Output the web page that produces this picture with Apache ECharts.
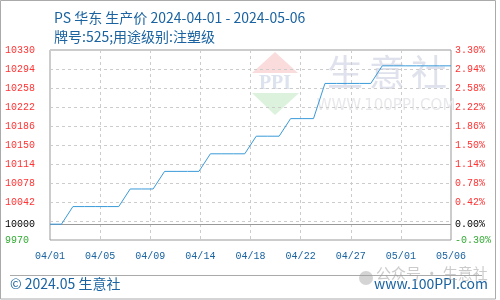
<!DOCTYPE html>
<html>
<head>
<meta charset="utf-8">
<script src="https://cdn.jsdelivr.net/npm/echarts@6/dist/echarts.min.js"></script>
<style>html,body{margin:0;padding:0;background:#fff}#c{width:500px;height:300px}</style>
</head>
<body>
<div id="c"></div>
<script>
// ---- data ----
var dates = ['2024-04-01','2024-04-02','2024-04-03','2024-04-04','2024-04-05','2024-04-06','2024-04-07','2024-04-08','2024-04-09','2024-04-10',
  '2024-04-11','2024-04-12','2024-04-13','2024-04-14','2024-04-15','2024-04-16','2024-04-17','2024-04-18','2024-04-19','2024-04-20',
  '2024-04-21','2024-04-22','2024-04-23','2024-04-24','2024-04-25','2024-04-26','2024-04-27','2024-04-28','2024-04-29','2024-04-30',
  '2024-05-01','2024-05-02','2024-05-03','2024-05-04','2024-05-05','2024-05-06'];
var prices = [10000,10000,10033.33,10033.33,10033.33,10033.33,10033.33,10066.67,10066.67,10066.67,
  10100,10100,10100,10100,10133.33,10133.33,10133.33,10133.33,10166.67,10166.67,
  10166.67,10200,10200,10200,10266.67,10266.67,10266.67,10266.67,10266.67,10300,
  10300,10300,10300,10300,10300,10300];
var xTickLabels = ['04/01','04/05','04/09','04/14','04/18','04/22','04/27','05/01','05/06'];
var yLabelValues = [10330,10294,10258,10222,10186,10150,10114,10078,10042,10000,9970];
var yGridValues = [10294,10258,10222,10186,10150,10114,10078,10042,10006];
var basePrice = 10000;
var yMin = 9970, yMax = 10330;

var titleText = 'PS 华东 生产价 2024-04-01 - 2024-05-06';
var subText = '牌号:525;用途级别:注塑级';

// ---- build ----
var DAY = 86400000;
var t0 = Date.parse(dates[0]);
var span = (Date.parse(dates[dates.length - 1]) - t0) / DAY;
var xInterval = span / (xTickLabels.length - 1);
var seriesData = dates.map(function (d, i) { return [(Date.parse(d) - t0) / DAY, prices[i]]; });

function labelColor(v) {
  v = Number(v);
  if (Math.abs(v - basePrice) < 1e-6) return '#000000';
  return v > basePrice ? '#ff3333' : '#33aa33';
}
var blue = '#1a63a0';
var mono = '"Liberation Mono", "DejaVu Sans Mono", monospace';
var cjk = '"Noto Sans CJK SC", "Noto Sans", sans-serif';

var chart = echarts.init(document.getElementById('c'), null, {renderer: 'canvas'});
chart.setOption({
  animation: false,
  backgroundColor: '#fff',
  title: [
    {text: titleText, left: 49, top: 6, textStyle: {fontSize: 14, fontWeight: 'normal', color: blue, fontFamily: cjk}},
    {text: subText, left: 49, top: 25, textStyle: {fontSize: 14, fontWeight: 'normal', color: blue, fontFamily: cjk}}
  ],
  grid: {left: 50, right: 49, top: 50, bottom: 60, show: true, borderColor: '#999', borderWidth: 1, backgroundColor: 'transparent'},
  xAxis: {
    type: 'value', min: 0, max: span, interval: xInterval,
    axisLine: {show: false}, axisTick: {show: false},
    splitLine: {show: true, lineStyle: {color: '#cccccc', type: [3, 3], width: 1}},
    axisLabel: {
      margin: 11, color: blue, fontSize: 10, fontFamily: mono, showMinLabel: true, showMaxLabel: true,
      formatter: function (v) { return xTickLabels[Math.round(v / xInterval)] || ''; }
    }
  },
  yAxis: [
    {
      type: 'value', min: yMin, max: yMax, position: 'left',
      axisLine: {show: false},
      axisTick: {show: false, customValues: yGridValues},
      splitLine: {show: true, lineStyle: {color: '#cccccc', type: [3, 3], width: 1}},
      axisLabel: {
        customValues: yLabelValues, align: 'left', margin: 45, fontSize: 10, fontFamily: mono,
        color: function (v) { return labelColor(v); },
        formatter: function (v) { return String(v); }
      }
    },
    {
      type: 'value', min: yMin, max: yMax, position: 'right',
      axisLine: {show: false},
      axisTick: {show: false, customValues: yLabelValues},
      splitLine: {show: false},
      axisLabel: {
        customValues: yLabelValues, align: 'left', margin: 4, fontSize: 10, fontFamily: mono,
        color: function (v) { return labelColor(v); },
        formatter: function (v) { return ((v - basePrice) / basePrice * 100).toFixed(2) + '%'; }
      }
    }
  ],
  graphic: [
    {type: 'rect', shape: {x: 0.5, y: 0.5, width: 495, height: 298.5}, style: {fill: 'none', stroke: '#aaaaaa', lineWidth: 1}, z: 0},
    {type: 'line', shape: {x1: 10, y1: 275.5, x2: 482, y2: 275.5}, style: {stroke: '#aaaaaa', lineWidth: 1}, z: 0},
    {type: 'text', left: 10, top: 277, style: {text: '© 2024.05 生意社', fontSize: 14, fill: blue, fontFamily: cjk}, z: 1},
    {type: 'text', right: 12, top: 277, style: {text: 'www.100PPI.com', fontSize: 14, fill: blue, fontFamily: cjk}, z: 1},
    {type: 'text', left: 376, top: 266, style: {text: '公众号 · 生意社', fontSize: 15, fill: 'rgba(160,160,160,0.55)', fontFamily: cjk}, z: 2},
    {type: 'circle', shape: {cx: 366, cy: 278, r: 7}, style: {fill: 'rgba(160,160,160,0.45)'}, z: 2},
    // watermark logo
    {type: 'polygon', shape: {points: [[275, 52], [252, 73], [298, 73]]}, style: {fill: '#fadcdc'}, z: 0},
    {type: 'text', x: 275, y: 84, style: {text: 'PPI', fontSize: 20, fontWeight: 'bold', fill: '#dde3ee', align: 'center', verticalAlign: 'middle', fontFamily: '"Liberation Serif", serif'}, z: 0},
    {type: 'polygon', shape: {points: [[252, 93], [299, 93], [275, 115]]}, style: {fill: '#dcf2dc'}, z: 0},
    {type: 'text', x: 345, y: 72, style: {text: '生', fontSize: 36, fill: '#dfe2ec', align: 'center', verticalAlign: 'middle', fontFamily: cjk}, z: 0},
    {type: 'text', x: 387, y: 72, style: {text: '意', fontSize: 36, fill: '#dfe2ec', align: 'center', verticalAlign: 'middle', fontFamily: cjk}, z: 0},
    {type: 'text', x: 429, y: 72, style: {text: '社', fontSize: 36, fill: '#dfe2ec', align: 'center', verticalAlign: 'middle', fontFamily: cjk}, z: 0},
    {type: 'text', x: 386, y: 106, style: {text: 'WWW.100PPI.COM', fontSize: 15, fill: '#e8e8ec', align: 'center', verticalAlign: 'middle', fontFamily: '"DejaVu Sans", sans-serif'}, z: 0}
  ],
  series: [{
    type: 'line', data: seriesData, showSymbol: false, symbol: 'none',
    lineStyle: {color: '#3a9ad9', width: 1}, z: 5,
    markLine: {
      silent: true, symbol: 'none', label: {show: false},
      lineStyle: {color: '#999999', type: 'solid', width: 1},
      data: [{yAxis: basePrice}], z: 3
    }
  }]
});
</script>
</body>
</html>
